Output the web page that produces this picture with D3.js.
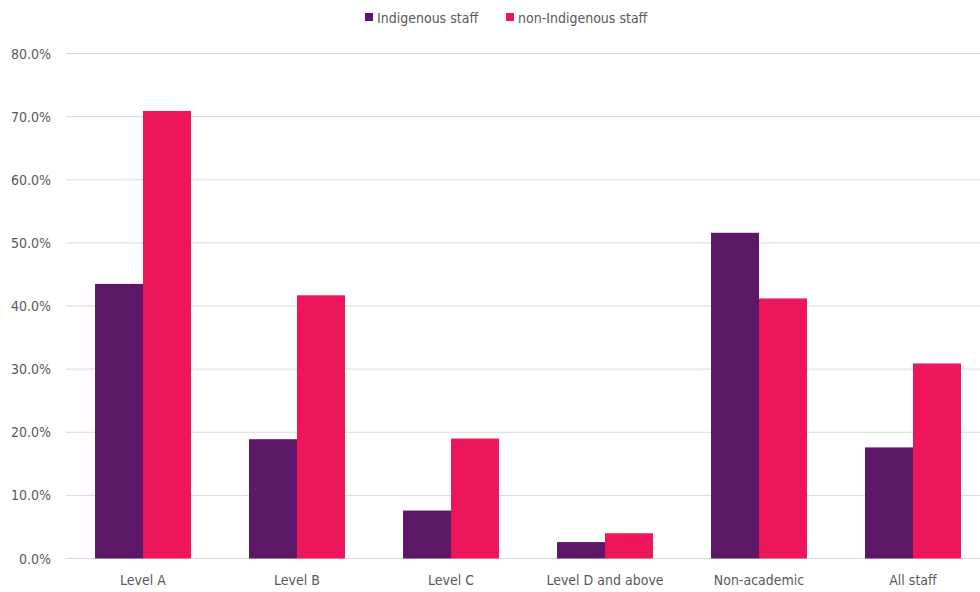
<!DOCTYPE html>
<html><head><meta charset="utf-8">
<script src="https://cdn.jsdelivr.net/npm/d3@7"></script>
<style>
body{margin:0;background:#fff;}
text{font-family:"Liberation Sans Narrow","DejaVu Sans Condensed","Open Sans",sans-serif;}
</style></head>
<body><svg id="c" width="980" height="592"></svg>
<script>
const categories = ["Level A","Level B","Level C","Level D and above","Non-academic","All staff"];
const seriesNames = ["Indigenous staff","non-Indigenous staff"];
const indigenous = [43.5, 18.9, 7.6, 2.6, 51.6, 17.6];
const nonIndigenous = [70.9, 41.7, 19.0, 4.0, 41.2, 30.9];
const yTicks = [0,10,20,30,40,50,60,70,80];
const colors = ["#5C1766","#EE165B"];

const svg = d3.select("#c");
const x = d3.scaleBand().domain(categories).range([66,990]).paddingInner(0.377).paddingOuter(0.1885);
const xs = d3.scaleBand().domain(seriesNames).range([0,x.bandwidth()]);
const y = d3.scaleLinear().domain([0,80]).range([558.5,53.5]);

svg.append("g").selectAll("line").data(yTicks).join("line")
  .attr("x1",66).attr("x2",980)
  .attr("y1",d=>y(d)).attr("y2",d=>y(d))
  .attr("stroke","#d9d9d9").attr("stroke-width",1);

svg.append("g").selectAll("text").data(yTicks).join("text")
  .attr("x",51).attr("y",d=>y(d)+5)
  .attr("text-anchor","end").attr("font-size",14).attr("fill","#595959")
  .text(d=>d.toFixed(1)+"%");

const data = [indigenous, nonIndigenous];
data.forEach((vals,si)=>{
  svg.append("g").selectAll("rect").data(vals).join("rect")
    .attr("x",(d,i)=>x(categories[i])+xs(seriesNames[si]))
    .attr("width",xs.bandwidth())
    .attr("y",d=>y(d)).attr("height",d=>y(0)-y(d))
    .attr("fill",colors[si]);
});

svg.append("g").selectAll("text").data(categories).join("text")
  .attr("x",d=>x(d)+x.bandwidth()/2).attr("y",585)
  .attr("text-anchor","middle").attr("font-size",14).attr("fill","#595959")
  .text(d=>d);

const leg = [{x:365,tx:377},{x:506,tx:518}];
seriesNames.forEach((n,i)=>{
  svg.append("rect").attr("x",leg[i].x).attr("y",13).attr("width",8).attr("height",8).attr("fill",colors[i]);
  svg.append("text").attr("x",leg[i].tx).attr("y",22.5).attr("font-size",14).attr("fill","#595959").text(n);
});
</script></body></html>
